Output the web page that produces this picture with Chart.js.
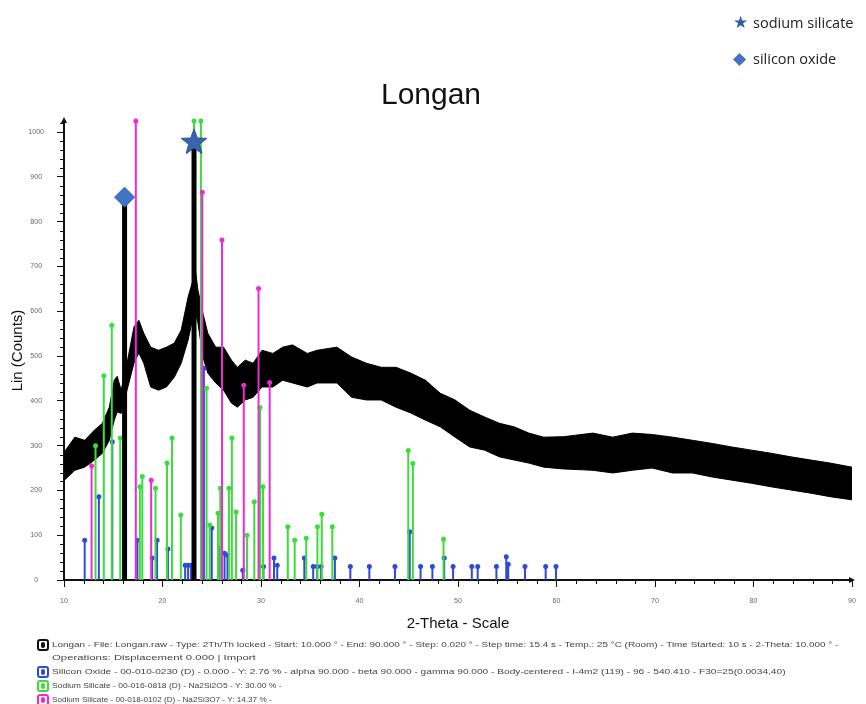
<!DOCTYPE html>
<html>
<head>
<meta charset="utf-8">
<title>Longan</title>
<script src="https://cdn.jsdelivr.net/npm/chart.js@4.4.1/dist/chart.umd.min.js"></script>
<style>
  html, body { margin: 0; padding: 0; background: #fff; }
  #wrap { position: relative; width: 866px; height: 704px; overflow: hidden; }
  #chart { position: absolute; left: 0; top: 0; }
  .key { position: absolute; left: 733px; font-family: "Open Sans", sans-serif; font-size: 14.5px; color: #222; white-space: nowrap; line-height: 20px; }
  .key .sym { display: inline-block; width: 20px; font-family: "DejaVu Sans", sans-serif; font-size: 17px; }
  .note { position: absolute; left: 52px; font-family: "Liberation Sans", Arial, sans-serif; font-size: 8px; line-height: 10px; color: #444; white-space: nowrap; transform-origin: 0 50%; }
  .icon { position: absolute; left: 37px; width: 8px; height: 8px; border: 2px solid; border-radius: 3px; background: #fff; }
  .icon i { position: absolute; left: 2px; top: 1px; width: 4px; height: 6px; border-radius: 2px; }
</style>
</head>
<body>
<div id="wrap">
  <canvas id="chart" width="866" height="704"></canvas>

  <div class="key" style="top:12px"><span class="sym" style="color:#2f5cab">★</span>sodium silicate</div>
  <div class="key" style="top:48px"><span class="sym" style="color:#4472c4">◆</span>silicon oxide</div>

  <div class="icon" style="top:639px;border-color:#111"><i style="background:#111"></i></div>
  <div class="note" data-w="786" style="top:640px">Longan - File: Longan.raw - Type: 2Th/Th locked - Start: 10.000 ° - End: 90.000 ° - Step: 0.020 ° - Step time: 15.4 s - Temp.: 25 °C (Room) - Time Started: 10 s - 2-Theta: 10.000 ° -</div>
  <div class="note" data-w="203" style="top:653px">Operations: Displacement 0.000 | Import</div>
  <div class="icon" style="top:666px;border-color:#2f49d8"><i style="background:#2f49d8"></i></div>
  <div class="note" data-w="733" style="top:667px">Silicon Oxide - 00-010-0230 (D) - 0.000 - Y: 2.76 % - alpha 90.000 - beta 90.000 - gamma 90.000 - Body-centered - I-4m2 (119) - 96 - 540.410 - F30=25(0.0034,40)</div>
  <div class="icon" style="top:680px;border-color:#3cdc3c"><i style="background:#3cdc3c"></i></div>
  <div class="note" data-w="230" style="top:681px">Sodium Silicate - 00-016-0818 (D) - Na2Si2O5 - Y: 30.00 % -</div>
  <div class="icon" style="top:694px;border-color:#ee2bd2"><i style="background:#ee2bd2"></i></div>
  <div class="note" data-w="220" style="top:695px">Sodium Silicate - 00-018-0102 (D) - Na2Si3O7 - Y: 14.37 % -</div>
</div>

<script>
// ---------------- scan (black noisy band: upper and lower edge) ----------------
const scanTheta = [10, 11.1, 12.1, 13.1, 13.9, 14.6, 15.1, 15.4, 15.8, 16.4, 17.1, 17.6, 18.1, 18.8, 19.6,
  20.4, 21.2, 21.9, 22.6, 23.1, 23.3, 23.6, 24.1, 24.6, 25.4, 26.2, 27.0, 27.6, 28.4, 29.2, 30.1, 31.2,
  32.2, 33.2, 34.7, 35.7, 37.7, 39.2, 40.7, 42.2, 43.7, 45.2, 46.7, 48.2, 49.7, 51.2, 52.7, 54.2, 55.7,
  57.2, 58.7, 60.7, 63.7, 65.7, 67.7, 69.7, 71.8, 73.8, 75.8, 77.8, 79.8, 81.8, 83.8, 85.8, 87.8, 90];
const scanHigh = [285, 319, 312, 335, 350, 386, 446, 455, 424, 484, 565, 580, 551, 520, 513,
  520, 529, 558, 632, 670, 700, 647, 596, 551, 520, 520, 491, 475, 491, 484, 513, 506,
  520, 525, 506, 513, 520, 498, 484, 475, 475, 462, 446, 417, 402, 379, 364, 350, 342,
  328, 319, 320, 328, 319, 328, 325, 319, 312, 305, 297, 290, 283, 275, 268, 261, 252];
const scanLow = [222, 245, 252, 268, 283, 312, 357, 375, 372, 424, 484, 507, 484, 431, 424,
  431, 453, 484, 536, 587, 600, 574, 498, 462, 440, 424, 395, 386, 402, 408, 431, 431,
  446, 440, 431, 440, 440, 408, 402, 402, 386, 373, 357, 342, 319, 297, 290, 275, 268,
  261, 252, 248, 245, 239, 245, 250, 239, 239, 230, 223, 216, 208, 201, 194, 186, 179];

// ---------------- reference patterns (stick positions and heights) ----------------
const oxideTheta = [12.1, 13.54, 14.9, 17.45, 18.95, 19.45, 20.55, 22.3, 22.6, 22.9, 24.2, 25.0, 25.8,
  26.3, 26.6, 28.15, 30.25, 31.32, 31.65, 34.4, 35.3, 35.7, 36.1, 37.5, 39.07, 41.0, 43.6, 45.1, 46.2,
  47.4, 48.6, 49.5, 51.4, 52.0, 53.9, 54.9, 55.1, 56.8, 58.9, 59.95];
const oxideCounts = [89, 186, 309, 89, 49, 89, 69, 33, 33, 33, 473, 116, 71,
  60, 55, 22, 30, 49, 33, 49, 30, 30, 30, 49, 30, 30, 30, 108, 30,
  30, 49, 30, 30, 30, 30, 52, 35, 30, 30, 30];

const na2si2o5Theta = [13.2, 14.04, 14.85, 15.71, 17.7, 17.95, 19.29, 20.46, 20.96, 21.86, 23.2, 23.9,
  24.47, 24.8, 25.64, 25.87, 26.74, 27.04, 27.47, 28.58, 29.32, 29.9, 30.2, 32.72, 33.42, 34.59, 35.73,
  36.17, 37.24, 44.95, 45.42, 48.53];
const na2si2o5Counts = [300, 456, 569, 317, 208, 231, 205, 261, 317, 145, 1025, 1025,
  428, 123, 149, 205, 205, 317, 152, 100, 175, 385, 208, 119, 89, 93, 119,
  147, 119, 289, 260, 91];

const na2si3o7Theta = [12.8, 17.29, 18.85, 24.04, 26.04, 28.25, 29.75, 30.88];
const na2si3o7Counts = [255, 1025, 223, 866, 759, 435, 651, 441];

// highlighted peaks (diamond = silicon oxide, star = sodium silicate)
const markTheta = [16.15, 23.2];
const markCounts = [855, 978];

const xTickValues = [10, 20, 30, 40, 50, 60, 70, 80, 90];
const yTickValues = [0, 100, 200, 300, 400, 500, 600, 700, 800, 900, 1000];

// ---------------- helpers ----------------
function sticks(theta, counts) {
  const pts = [];
  theta.forEach((t, i) => {
    pts.push({ x: t, y: 0 }, { x: t, y: counts[i] }, { x: t, y: null });
  });
  return pts;
}

function band(values) {
  return scanTheta.map((t, i) => ({ x: t, y: values[i] }));
}

function stickSet(theta, counts, color, order) {
  return {
    type: 'line',
    data: sticks(theta, counts),
    borderColor: color,
    borderWidth: 2,
    pointRadius: (ctx) => (ctx.raw && ctx.raw.y > 0 ? 2.5 : 0),
    pointBackgroundColor: color,
    pointBorderWidth: 0,
    spanGaps: false,
    fill: false,
    tension: 0,
    clip: 6,
    order: order
  };
}

// filled five point star for the sodium silicate marker
const star = document.createElement('canvas');
star.width = 30;
star.height = 30;
const sctx = star.getContext('2d');
sctx.beginPath();
for (let i = 0; i < 10; i++) {
  const r = i % 2 === 0 ? 13.5 : 5.6;
  const a = -Math.PI / 2 + i * Math.PI / 5;
  sctx.lineTo(15 + r * Math.cos(a), 15.5 + r * Math.sin(a));
}
sctx.closePath();
sctx.fillStyle = '#3a64b0';
sctx.fill();
sctx.strokeStyle = '#284a88';
sctx.lineWidth = 1;
sctx.stroke();

// minor ticks + axis arrows
const axisExtras = {
  id: 'axisExtras',
  afterDraw(chart) {
    const { ctx, chartArea, scales: { x, y } } = chart;
    ctx.save();
    ctx.strokeStyle = '#111';
    ctx.lineWidth = 1;
    ctx.beginPath();
    for (let v = 20; v <= 1020; v += 20) {
      if (v % 100 === 0) continue;
      const py = Math.round(y.getPixelForValue(v)) + 0.5;
      ctx.moveTo(chartArea.left - 4, py);
      ctx.lineTo(chartArea.left, py);
    }
    for (let t = 12; t < 90; t += 2) {
      if (t % 10 === 0) continue;
      const px = Math.round(x.getPixelForValue(t)) + 0.5;
      ctx.moveTo(px, chartArea.bottom);
      ctx.lineTo(px, chartArea.bottom + 4);
    }
    ctx.stroke();
    ctx.fillStyle = '#111';
    ctx.beginPath();
    ctx.moveTo(chartArea.left, chartArea.top - 4);
    ctx.lineTo(chartArea.left - 3, chartArea.top + 2);
    ctx.lineTo(chartArea.left + 3, chartArea.top + 2);
    ctx.fill();
    ctx.beginPath();
    ctx.moveTo(chartArea.right + 3, chartArea.bottom);
    ctx.lineTo(chartArea.right - 3, chartArea.bottom - 3);
    ctx.lineTo(chartArea.right - 3, chartArea.bottom + 3);
    ctx.fill();
    ctx.restore();
  }
};

new Chart(document.getElementById('chart'), {
  data: {
    datasets: [
      {
        type: 'scatter',
        data: markTheta.map((t, i) => ({ x: t, y: markCounts[i] })),
        pointStyle: ['rectRot', star],
        pointRadius: [10, 13],
        backgroundColor: '#4472c4',
        borderColor: '#3b63ad',
        borderWidth: 1,
        clip: false,
        order: 0
      },
      {
        type: 'line',
        data: sticks(markTheta, markCounts),
        borderColor: '#000',
        borderWidth: 5,
        pointRadius: 0,
        spanGaps: false,
        order: 1
      },
      stickSet(na2si3o7Theta, na2si3o7Counts, '#ee2bd2', 2),
      stickSet(na2si2o5Theta, na2si2o5Counts, '#3cdc3c', 3),
      stickSet(oxideTheta, oxideCounts, '#2f49d8', 4),
      {
        type: 'line',
        data: band(scanHigh),
        borderColor: '#000',
        backgroundColor: '#000',
        borderWidth: 1,
        pointRadius: 0,
        fill: '+1',
        order: 10
      },
      {
        type: 'line',
        data: band(scanLow),
        borderColor: '#000',
        borderWidth: 1,
        pointRadius: 0,
        fill: false,
        order: 11
      }
    ]
  },
  options: {
    responsive: false,
    animation: false,
    layout: { padding: { left: 0, right: 4, top: 78, bottom: 70 } },
    plugins: {
      legend: { display: false },
      tooltip: { enabled: false },
      title: {
        display: true,
        text: 'Longan',
        color: '#111',
        font: { family: 'Liberation Sans', size: 30, weight: 'normal' },
        padding: { top: 0, bottom: 7 }
      }
    },
    scales: {
      x: {
        type: 'linear',
        min: 10,
        max: 90,
        afterBuildTicks: (scale) => { scale.ticks = xTickValues.map((v) => ({ value: v })); },
        afterFit: (scale) => { scale.height = 54; },
        grid: { drawOnChartArea: false, tickLength: 7, tickColor: '#111' },
        border: { color: '#111', width: 2 },
        ticks: { color: '#666', padding: 10, maxRotation: 0, callback: (v) => String(v), font: { family: 'Liberation Sans', size: 7 } },
        title: {
          display: true,
          text: '2-Theta - Scale',
          color: '#111',
          font: { family: 'Liberation Sans', size: 15 },
          padding: { top: 0, bottom: 1 }
        }
      },
      y: {
        type: 'linear',
        min: 0,
        max: 1025,
        afterBuildTicks: (scale) => { scale.ticks = yTickValues.map((v) => ({ value: v })); },
        afterFit: (scale) => { scale.width = 64; },
        grid: { drawOnChartArea: false, tickLength: 7, tickColor: '#111' },
        border: { color: '#111', width: 2 },
        ticks: { color: '#666', padding: 13, crossAlign: 'center', callback: (v) => String(v), font: { family: 'Liberation Sans', size: 7 } },
        title: {
          display: true,
          text: 'Lin (Counts)',
          color: '#111',
          font: { family: 'Liberation Sans', size: 15 },
          padding: { top: 9, bottom: 0 }
        }
      }
    }
  },
  plugins: [axisExtras]
});

// squeeze footer notes to the width they take in the original
document.querySelectorAll('.note').forEach((el) => {
  const w = Number(el.dataset.w);
  el.style.transform = 'scaleX(' + (w / el.scrollWidth).toFixed(3) + ')';
});
</script>
</body>
</html>
